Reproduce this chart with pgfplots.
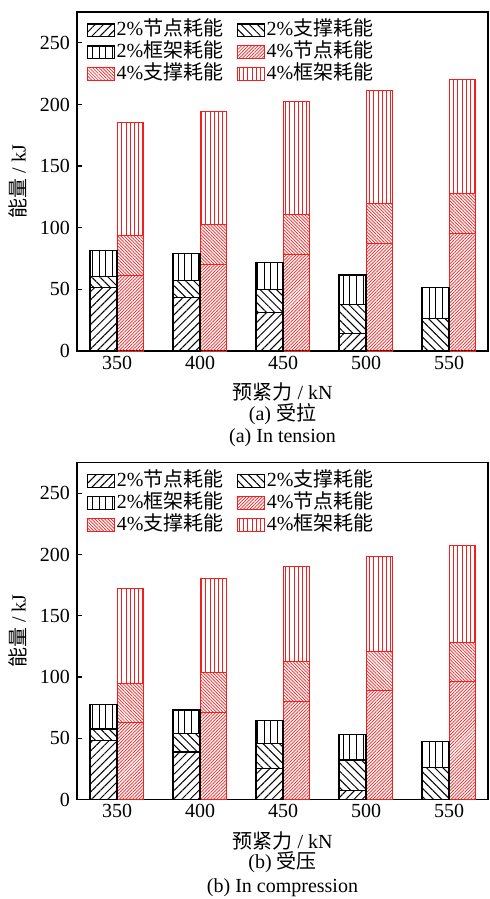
\documentclass[border=0pt]{standalone}
\usepackage{fontspec}
\setmainfont{Liberation Serif}
\newfontfamily\cjk{Noto Sans CJK SC}
\usepackage{pgfplots}
\usepackage{pgfplotstable}
\pgfplotsset{compat=1.18}
\usetikzlibrary{patterns.meta}
\definecolor{hred}{RGB}{245,30,30}

% Energy dissipated in each part (kJ); columns hold the height of each stacked segment
% b* : 2% drift (joint, brace, frame), r* : 4% drift (joint, brace, frame)
\pgfplotstableread{
x bj bb bf rj rb rf
0 51.5 9.0 20.8 61.5 32.5 91.1
1 43.4 13.6 22.0 70.5 32.5 91.3
2 31.2 18.4 22.0 78.6 32.4 91.8
3 14.4 23.3 24.0 87.3 32.2 91.6
4 0.0 26.3 25.0 95.4 32.6 92.3
}\tension

\pgfplotstableread{
x bj bb bf rj rb rf
0 48.4 9.3 19.6 62.6 31.8 78.1
1 38.9 15.0 19.3 71.3 32.1 77.2
2 25.3 20.4 19.0 80.3 32.4 77.3
3 7.6 24.8 20.7 89.0 31.8 77.8
4 0.0 26.1 21.2 96.3 32.1 78.7
}\compression

\tikzset{
  bjoint/.style={draw=black, line width=0.6pt, pattern={Lines[angle=45,distance=2.9pt,line width=0.5pt]}, pattern color=black},
  bbrace/.style={draw=black, line width=0.6pt, pattern={Lines[angle=-45,distance=2.9pt,line width=0.5pt]}, pattern color=black},
  bframe/.style={draw=black, line width=0.6pt, pattern={Lines[angle=90,distance=3.3pt,line width=0.5pt]}, pattern color=black},
  rjoint/.style={draw=hred, line width=0.5pt, pattern={Lines[angle=45,distance=1.15pt,line width=0.35pt]}, pattern color=hred},
  rbrace/.style={draw=hred, line width=0.5pt, pattern={Lines[angle=-45,distance=1.15pt,line width=0.35pt]}, pattern color=hred},
  rframe/.style={draw=hred, line width=0.5pt, pattern={Lines[angle=90,distance=2.1pt,line width=0.4pt]}, pattern color=hred},
}

\pgfplotsset{
  frame/.style={
    scale only axis, width=205.5pt,
    xmin=-0.482, xmax=4.47, ymin=0, ymax=275,
    ybar stacked, bar width=0.325,
  },
  panel/.style={
    frame,
    clip=false,
    axis line style={line width=0.6pt},
    font=\fontsize{10}{12}\selectfont,
    xtick={0,1,2,3,4}, xticklabels={350,400,450,500,550},
    x tick style={draw=none},
    xticklabel style={yshift=1pt},
    ytick={0,50,100,150,200,250},
    ytick pos=left, tick align=inside, major tick length=2.5pt,
    y tick style={line width=0.6pt, black},
    /pgf/number format/assume math mode=true,
    ylabel={{\cjk 能量} / kJ},
    ylabel style={at={(rel axis cs:-0.1436,0.5)}, anchor=center},
    legend columns=2,
    legend cell align=left,
    legend image code/.code={\draw[#1] (0pt,-3.2pt) rectangle (13.5pt,3.2pt);},
    legend style={draw=none, fill=none, inner sep=0pt,
      at={(rel axis cs:0,1)}, anchor=north west, xshift=4.85pt, yshift=-3.5pt,
      font=\fontsize{10}{12}\selectfont,
      nodes={inner sep=0.8pt, text height=7.4pt, text depth=2pt},
      row sep=0pt,
      /tikz/every even column/.append style={column sep=6pt}},
  },
}

\begin{document}
\begin{tikzpicture}
\useasboundingbox (-38.5pt,6pt) rectangle (206pt,-443.5pt);

% ---------- (a) tension ----------
\begin{axis}[panel, height=169.5pt, at={(0,0)}, anchor=north west]
  \addlegendimage{bjoint}\addlegendentry{2\%{\cjk 节点耗能}}
  \addlegendimage{bbrace}\addlegendentry{2\%{\cjk 支撑耗能}}
  \addlegendimage{bframe}\addlegendentry{2\%{\cjk 框架耗能}}
  \addlegendimage{rjoint}\addlegendentry{4\%{\cjk 节点耗能}}
  \addlegendimage{rbrace}\addlegendentry{4\%{\cjk 支撑耗能}}
  \addlegendimage{rframe}\addlegendentry{4\%{\cjk 框架耗能}}
  \addplot[rjoint, bar shift=0.1625, forget plot] table[x=x, y=rj] {\tension};
  \addplot[rbrace, bar shift=0.1625, forget plot] table[x=x, y=rb] {\tension};
  \addplot[rframe, bar shift=0.1625, forget plot] table[x=x, y=rf] {\tension};
  \node at (rel axis cs:0.5,0) [yshift=-20.5pt] {{\cjk 预紧力} / kN};
  \node at (rel axis cs:0.5,0) [yshift=-31.5pt] {(a) {\cjk 受拉}};
  \node at (rel axis cs:0.5,0) [yshift=-43.5pt] {(a) In tension};
\end{axis}
\begin{axis}[frame, height=169.5pt, at={(0,0)}, anchor=north west, hide axis]
  \addplot[bjoint, bar shift=-0.1625] table[x=x, y=bj] {\tension};
  \addplot[bbrace, bar shift=-0.1625] table[x=x, y=bb] {\tension};
  \addplot[bframe, bar shift=-0.1625] table[x=x, y=bf] {\tension};
\end{axis}

% ---------- (b) compression ----------
\begin{axis}[panel, height=168.5pt, at={(0,-225.3pt)}, anchor=north west]
  \addlegendimage{bjoint}\addlegendentry{2\%{\cjk 节点耗能}}
  \addlegendimage{bbrace}\addlegendentry{2\%{\cjk 支撑耗能}}
  \addlegendimage{bframe}\addlegendentry{2\%{\cjk 框架耗能}}
  \addlegendimage{rjoint}\addlegendentry{4\%{\cjk 节点耗能}}
  \addlegendimage{rbrace}\addlegendentry{4\%{\cjk 支撑耗能}}
  \addlegendimage{rframe}\addlegendentry{4\%{\cjk 框架耗能}}
  \addplot[rjoint, bar shift=0.1625, forget plot] table[x=x, y=rj] {\compression};
  \addplot[rbrace, bar shift=0.1625, forget plot] table[x=x, y=rb] {\compression};
  \addplot[rframe, bar shift=0.1625, forget plot] table[x=x, y=rf] {\compression};
  \node at (rel axis cs:0.5,0) [yshift=-20.5pt] {{\cjk 预紧力} / kN};
  \node at (rel axis cs:0.5,0) [yshift=-31.5pt] {(b) {\cjk 受压}};
  \node at (rel axis cs:0.5,0) [yshift=-44pt] {(b) In compression};
\end{axis}
\begin{axis}[frame, height=168.5pt, at={(0,-225.3pt)}, anchor=north west, hide axis]
  \addplot[bjoint, bar shift=-0.1625] table[x=x, y=bj] {\compression};
  \addplot[bbrace, bar shift=-0.1625] table[x=x, y=bb] {\compression};
  \addplot[bframe, bar shift=-0.1625] table[x=x, y=bf] {\compression};
\end{axis}
\end{tikzpicture}
\end{document}
